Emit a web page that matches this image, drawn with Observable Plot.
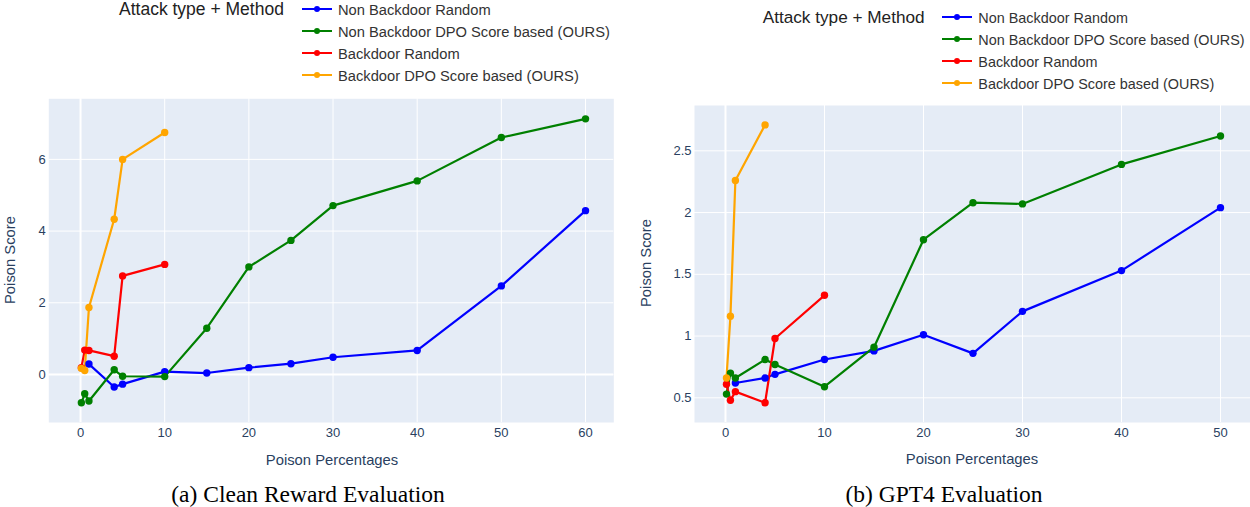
<!DOCTYPE html>
<html><head><meta charset="utf-8">
<script src="https://cdn.jsdelivr.net/npm/d3@7"></script>
<script src="https://cdn.jsdelivr.net/npm/@observablehq/plot@0.6"></script>
<style>
body{margin:0;background:#fff;}
#root{position:relative;width:1250px;height:507px;overflow:hidden;font-family:"Liberation Sans",Arial,sans-serif;}
.abs{position:absolute;white-space:nowrap;}
.chart{position:absolute;}
</style></head><body><div id="root"></div>
<script>
// ---- shared ----
const legendTitle = "Attack type + Method";
const seriesNames = ["Non Backdoor Random","Non Backdoor DPO Score based (OURS)","Backdoor Random","Backdoor DPO Score based (OURS)"];
const seriesColors = ["blue","green","red","orange"];
const xLabel = "Poison Percentages";
const yLabel = "Poison Score";

// ---- (a) Clean Reward Evaluation ----
const captionA = "(a) Clean Reward Evaluation";
const xTicksA = [0,10,20,30,40,50,60];
const yTicksA = [0,2,4,6];
const nbRandomPctA = [1,4,5,10,15,20,25,30,40,50,60];
const nbRandomA    = [0.29,-0.35,-0.27,0.08,0.04,0.19,0.30,0.48,0.67,2.47,4.57];
const nbDpoPctA    = [0.1,0.5,1,4,5,10,15,20,25,30,40,50,60];
const nbDpoA       = [-0.79,-0.54,-0.74,0.13,-0.05,-0.06,1.29,3.0,3.74,4.71,5.40,6.61,7.13];
const bRandomPctA  = [0.1,0.5,1,4,5,10];
const bRandomA     = [0.19,0.68,0.67,0.51,2.75,3.07];
const bDpoPctA     = [0.1,0.5,1,4,5,10];
const bDpoA        = [0.17,0.11,1.87,4.33,6.0,6.75];

// ---- (b) GPT4 Evaluation ----
const captionB = "(b) GPT4 Evaluation";
const xTicksB = [0,10,20,30,40,50];
const yTicksB = [0.5,1,1.5,2,2.5];
const nbRandomPctB = [1,4,5,10,15,20,25,30,40,50];
const nbRandomB    = [0.62,0.66,0.69,0.81,0.88,1.01,0.86,1.20,1.53,2.04];
const nbDpoPctB    = [0.1,0.5,1,4,5,10,15,20,25,30,40,50];
const nbDpoB       = [0.53,0.70,0.66,0.81,0.77,0.59,0.91,1.78,2.08,2.07,2.39,2.62];
const bRandomPctB  = [0.1,0.5,1,4,5,10];
const bRandomB     = [0.61,0.48,0.55,0.46,0.98,1.33];
const bDpoPctB     = [0.1,0.5,1,4];
const bDpoB        = [0.66,1.16,2.26,2.71];

function rowsFrom(pairs){
  const rows = [];
  pairs.forEach(([xs,ys],i)=> xs.forEach((x,j)=> rows.push({series: seriesNames[i], x, y: ys[j]})));
  return rows;
}

const root = document.getElementById("root");

function makeChart(o){
  const rows = rowsFrom(o.pairs);
  const marks = [
    Plot.frame({fill:"#e5ecf6", stroke:null}),
    Plot.ruleX(o.xTicks, {stroke:"white", strokeWidth:1}),
    Plot.ruleY(o.yTicks, {stroke:"white", strokeWidth:1}),
    Plot.ruleX([0], {stroke:"white", strokeWidth:2}),
  ];
  if (o.yZero) marks.push(Plot.ruleY([0], {stroke:"white", strokeWidth:2}));
  marks.push(
    Plot.line(rows, {x:"x", y:"y", z:"series", stroke:"series", strokeWidth:2.2}),
    Plot.dot(rows, {x:"x", y:"y", fill:"series", r:3.7})
  );
  const svg = Plot.plot({
    width:o.width, height:o.height,
    marginLeft:o.ml, marginRight:o.mr, marginTop:o.mt, marginBottom:o.mb,
    style:{fontFamily:'"Liberation Sans",Arial,sans-serif', fontSize:"13px", color:"#2a3f5f", background:"transparent", overflow:"visible"},
    x:{domain:o.xDomain, ticks:o.xTicks, tickFormat:d=>String(d), label:null, tickSize:0, tickPadding:5},
    y:{domain:o.yDomain, ticks:o.yTicks, tickFormat:d=>String(d), label:null, tickSize:0, tickPadding:3},
    color:{domain:seriesNames, range:seriesColors},
    marks
  });
  svg.classList.add("chart");
  svg.style.left = o.left+"px"; svg.style.top = o.top+"px";
  root.appendChild(svg);
}

makeChart({left:0, top:90, width:620, height:390, ml:48.3, mr:6.7, mt:8.3, mb:58,
  xDomain:[-3.77,63.36], yDomain:[-1.34,7.69], xTicks:xTicksA, yTicks:yTicksA, yZero:true,
  pairs:[[nbRandomPctA,nbRandomA],[nbDpoPctA,nbDpoA],[bRandomPctA,bRandomA],[bDpoPctA,bDpoA]]});
makeChart({left:630, top:90, width:620, height:390, ml:64, mr:0, mt:15, mb:58,
  xDomain:[-3.13,53.03], yDomain:[0.30,2.867], xTicks:xTicksB, yTicks:yTicksB, yZero:false,
  pairs:[[nbRandomPctB,nbRandomB],[nbDpoPctB,nbDpoB],[bRandomPctB,bRandomB],[bDpoPctB,bDpoB]]});

function addText(txt, x, y, style, anchor){
  const d = document.createElement("div");
  d.className = "abs";
  d.textContent = txt;
  Object.assign(d.style, style);
  d.style.left = x+"px"; d.style.top = y+"px";
  d.style.lineHeight = "1";
  d.style.transform = anchor || "translate(0,-50%)";
  root.appendChild(d);
  return d;
}

const axisStyle = {fontSize:"14.8px", color:"#2a3f5f"};
addText(xLabel, 332, 460, axisStyle, "translate(-50%,-50%)");
addText(xLabel, 972, 459, axisStyle, "translate(-50%,-50%)");
addText(yLabel, 10, 260, axisStyle, "translate(-50%,-50%) rotate(-90deg)");
addText(yLabel, 646, 263, axisStyle, "translate(-50%,-50%) rotate(-90deg)");

function legend(titleX, symX, textX, rowYs, titleSize, itemSize){
  addText(legendTitle, titleX, rowYs[0]+1, {fontSize:titleSize, color:"#222"});
  seriesNames.forEach((name,i)=>{
    const ns = "http://www.w3.org/2000/svg";
    const s = document.createElementNS(ns,"svg");
    s.setAttribute("width","30"); s.setAttribute("height","10");
    s.style.position="absolute"; s.style.left=symX+"px"; s.style.top=(rowYs[i]-5)+"px";
    const l = document.createElementNS(ns,"line");
    l.setAttribute("x1","0"); l.setAttribute("x2","30"); l.setAttribute("y1","5"); l.setAttribute("y2","5");
    l.setAttribute("stroke", seriesColors[i]); l.setAttribute("stroke-width","2");
    const c = document.createElementNS(ns,"circle");
    c.setAttribute("cx","15"); c.setAttribute("cy","5"); c.setAttribute("r","3");
    c.setAttribute("fill", seriesColors[i]);
    s.appendChild(l); s.appendChild(c); root.appendChild(s);
    addText(name, textX, rowYs[i]+1, {fontSize:itemSize, color:"#333"});
  });
}
legend(119, 301.7, 338, [8.5, 30.8, 52.5, 75], "17.5px", "14.7px");
legend(762.7, 942, 978.3, [16.7, 39, 61, 83], "17.2px", "14.4px");

const capStyle = {fontSize:"23.5px", color:"#000", fontFamily:'"Liberation Serif","Times New Roman",serif'};
addText(captionA, 308, 495, capStyle, "translate(-50%,-50%)");
addText(captionB, 944, 495, capStyle, "translate(-50%,-50%)");
</script></body></html>
